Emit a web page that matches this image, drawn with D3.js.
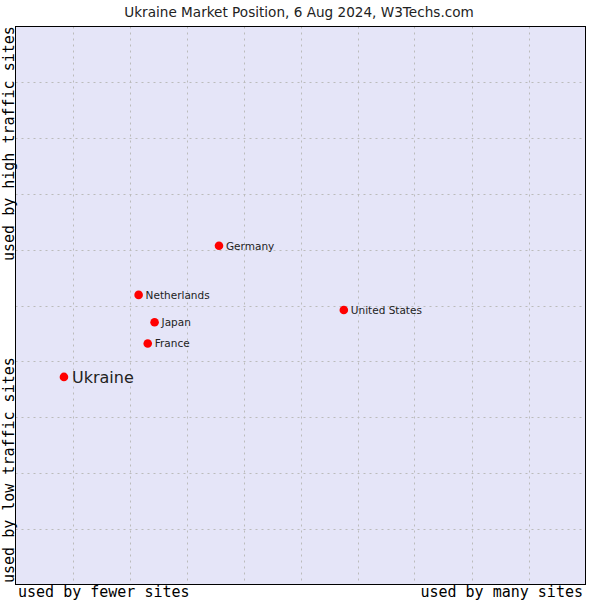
<!DOCTYPE html>
<html><head><meta charset="utf-8">
<script src="https://cdn.jsdelivr.net/npm/d3@7"></script>
<style>body{margin:0;background:#fff}</style>
</head><body>
<script>
const names = ["Ukraine","Netherlands","Japan","France","Germany","United States"];
const xValues = [8.5, 21.6, 24.4, 23.2, 35.7, 57.6];
const yValues = [37.2, 51.9, 47.0, 43.2, 60.7, 49.2];
const title = "Ukraine Market Position, 6 Aug 2024, W3Techs.com";
const xLabels = ["used by fewer sites","used by many sites"];
const yLabels = ["used by low traffic sites","used by high traffic sites"];
const gridTicks = [10,20,30,40,50,60,70,80,90];

const W=600,H=600, L=15.5, R=585.5, T=26.5, B=584.5;
const svg=d3.select("body").append("svg").attr("width",W).attr("height",H);
const x=d3.scaleLinear().domain([0,100]).range([L,R]);
const y=d3.scaleLinear().domain([0,100]).range([B,T]);

svg.append("text").attr("x",299).attr("y",17).attr("text-anchor","middle")
  .attr("font-family","DejaVu Sans").attr("font-size",13.6).attr("fill","#222").text(title);

svg.append("rect").attr("x",L).attr("y",T).attr("width",R-L).attr("height",B-T)
  .attr("fill","#e5e5f8");

const g=svg.append("g");
g.selectAll("line.vx").data(gridTicks).join("line")
  .attr("x1",d=>Math.round(x(d))+0.5).attr("x2",d=>Math.round(x(d))+0.5)
  .attr("y1",T).attr("y2",B).attr("stroke","#bbbbbb").attr("stroke-dasharray","2,4");
g.selectAll("line.hy").data(gridTicks).join("line")
  .attr("y1",d=>Math.round(y(d))+0.5).attr("y2",d=>Math.round(y(d))+0.5)
  .attr("x1",L).attr("x2",R).attr("stroke","#bbbbbb").attr("stroke-dasharray","2,4");

svg.append("rect").attr("x",L).attr("y",T).attr("width",R-L).attr("height",B-T)
  .attr("fill","none").attr("stroke","#000").attr("stroke-width",1);

const pts=names.map((n,i)=>({n,x:xValues[i],y:yValues[i]}));
svg.selectAll("circle.p").data(pts).join("circle")
  .attr("cx",d=>x(d.x)).attr("cy",d=>y(d.y)).attr("r",4.3).attr("fill","#ff0000");
svg.selectAll("text.lab").data(pts).join("text")
  .attr("x",d=>x(d.x)+(d.n==="Ukraine"?8:7)).attr("y",d=>y(d.y))
  .attr("dy","0.36em")
  .attr("font-family","DejaVu Sans")
  .attr("font-size",d=>d.n==="Ukraine"?16:10.5)
  .attr("fill","#222").text(d=>d.n);

const mono="DejaVu Sans Mono";
svg.append("text").attr("x",18).attr("y",597).attr("font-family",mono).attr("font-size",15)
  .attr("fill","#000").text(xLabels[0]);
svg.append("text").attr("x",583).attr("y",597).attr("text-anchor","end").attr("font-family",mono).attr("font-size",15)
  .attr("fill","#000").text(xLabels[1]);
svg.append("text").attr("transform","translate(14,583) rotate(-90)").attr("font-family",mono).attr("font-size",15)
  .attr("fill","#000").text(yLabels[0]);
svg.append("text").attr("transform","translate(14,261) rotate(-90)").attr("font-family",mono).attr("font-size",15)
  .attr("fill","#000").text(yLabels[1]);
</script>
</body></html>
